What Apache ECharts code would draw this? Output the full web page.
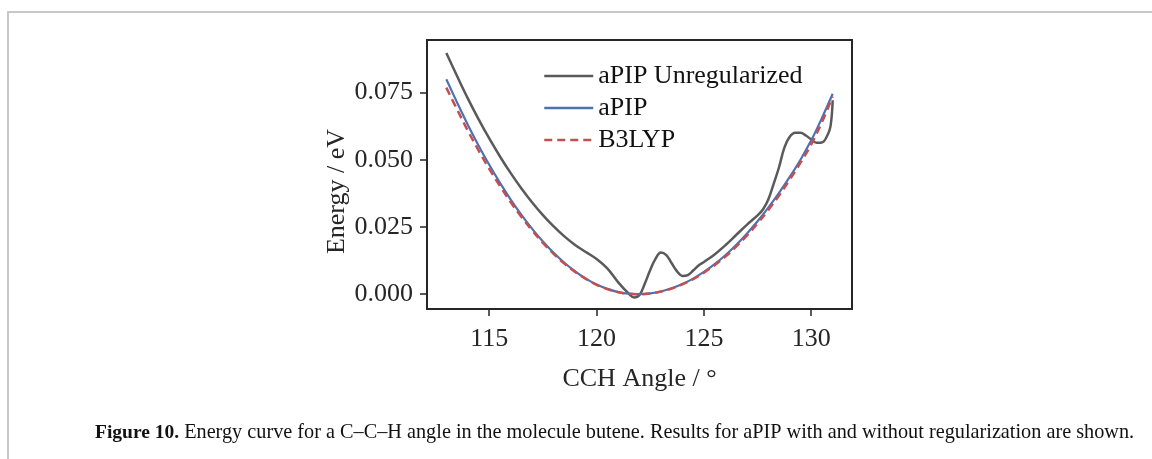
<!DOCTYPE html>
<html>
<head>
<meta charset="utf-8">
<script src="https://cdn.jsdelivr.net/npm/echarts@6/dist/echarts.min.js"></script>
<style>
html,body{margin:0;padding:0;background:#fff;}
#chart{width:1152px;height:459px;}
</style>
</head>
<body>
<div id="chart"></div>
<script>
// ---- data ----
const angle = [113,113.5,114,114.5,115,115.5,116,116.5,117,117.5,118,118.5,119,119.5,120,120.5,121,121.5,122,122.5,123,123.5,124,124.5,125,125.5,126,126.5,127,127.5,128,128.5,129,129.5,130,130.5,131];
const aPIP = [0.0799,0.0713,0.0630,0.0553,0.0481,0.0414,0.0352,0.0295,0.0243,0.0196,0.0154,0.0117,0.0085,0.0058,0.0036,0.0020,0.0008,0.0002,0.0000,0.0003,0.0010,0.0022,0.0038,0.0058,0.0083,0.0112,0.0145,0.0183,0.0225,0.0271,0.0322,0.0377,0.0436,0.0500,0.0572,0.0655,0.0745];
const b3lyp = [0.0768,0.0687,0.0608,0.0535,0.0466,0.0402,0.0342,0.0287,0.0237,0.0191,0.0150,0.0114,0.0083,0.0057,0.0035,0.0019,0.0008,0.0002,0.0000,0.0003,0.0010,0.0021,0.0037,0.0056,0.0080,0.0108,0.0140,0.0177,0.0218,0.0263,0.0313,0.0367,0.0426,0.0489,0.0557,0.0640,0.0735];
const angleUnreg = [113,113.5,114,114.5,115,115.5,116,116.5,117,117.5,118,118.5,119,119.5,120,120.5,121,121.5,121.75,122,122.25,122.5,122.75,123,123.25,123.5,123.75,124,124.25,124.5,124.75,125,125.5,126,126.5,127,127.5,127.75,128,128.25,128.5,128.75,129,129.25,129.5,129.75,130,130.25,130.5,130.75,130.9,131];
const aPIPUnreg = [0.0897,0.0811,0.0728,0.0651,0.0579,0.0512,0.0450,0.0393,0.0341,0.0294,0.0252,0.0215,0.0183,0.0157,0.0131,0.0096,0.0045,0.0002,-0.0012,-0.0003,0.0040,0.0090,0.0132,0.0155,0.0145,0.0115,0.0085,0.0068,0.0071,0.0088,0.0107,0.0120,0.0148,0.0182,0.0220,0.0258,0.0293,0.0315,0.0352,0.0410,0.0472,0.0545,0.0585,0.0600,0.0600,0.0590,0.0575,0.0563,0.0564,0.0590,0.0625,0.0721];
const xTicks = [115,120,125,130];
const yTicks = [0,0.025,0.05,0.075];
const seriesNames = ['aPIP Unregularized','aPIP','B3LYP'];
const xLabel = 'CCH Angle / \u00B0';
const yLabel = 'Energy / eV';
const captionBold = 'Figure 10.';
const captionText = 'Energy curve for a C\u2013C\u2013H angle in the molecule butene. Results for aPIP with and without regularization are shown.';

const pairs = (xs, ys) => xs.map((x, i) => [x, ys[i]]);
const FONT = 'Liberation Serif';
const AX = '#262626';
const TXT = '#262626';

const chart = echarts.init(document.getElementById('chart'), null, {renderer: 'canvas'});
chart.setOption({
  animation: false,
  backgroundColor: '#ffffff',
  title: {
    left: 95, top: 423, padding: 0,
    text: '{b|' + captionBold + '} {r|' + captionText + '}',
    textStyle: {
      fontWeight: 'normal',
      rich: {
        b: {fontFamily: FONT, fontSize: 19.5, fontWeight: 'bold', color: '#111'},
        r: {fontFamily: FONT, fontSize: 20.25, fontWeight: 'normal', color: '#111'}
      }
    }
  },
  graphic: [{
    type: 'rect', silent: true, z: -10,
    shape: {x: 8, y: 12, width: 1300, height: 600},
    style: {fill: 'none', stroke: '#c8c8c8', lineWidth: 2}
  }],
  grid: {
    left: 427, right: 300, top: 40, bottom: 150,
    show: true, borderColor: AX, borderWidth: 2, backgroundColor: 'transparent'
  },
  legend: {
    orient: 'vertical', left: 538, top: 56,
    itemWidth: 49, itemHeight: 14, itemGap: 2,
    itemStyle: {opacity: 0},
    lineStyle: {width: 2.5},
    textStyle: {fontFamily: FONT, fontSize: 26, lineHeight: 30, color: '#111'},
    data: seriesNames
  },
  xAxis: {
    type: 'value', min: 112.1, max: 131.9,
    name: xLabel, nameLocation: 'middle', nameGap: 57,
    nameTextStyle: {fontFamily: FONT, fontSize: 26, color: TXT},
    axisLine: {show: false, onZero: false},
    splitLine: {show: false},
    axisTick: {show: true, inside: false, length: 7, lineStyle: {color: AX, width: 1.5}, customValues: xTicks},
    axisLabel: {fontFamily: FONT, fontSize: 26, color: TXT, margin: 17, customValues: xTicks}
  },
  yAxis: {
    type: 'value', min: -0.0055, max: 0.0945,
    name: yLabel, nameLocation: 'middle', nameGap: 76, nameRotate: 90,
    nameTextStyle: {fontFamily: FONT, fontSize: 26, color: TXT, padding: [0, 34, 0, 0]},
    axisLine: {show: false, onZero: false},
    splitLine: {show: false},
    axisTick: {show: true, inside: false, length: 7, lineStyle: {color: AX, width: 1.5}, customValues: yTicks},
    axisLabel: {fontFamily: FONT, fontSize: 26, color: TXT, margin: 14, customValues: yTicks,
      formatter: v => v.toFixed(3)}
  },
  series: [
    {name: seriesNames[0], type: 'line', data: pairs(angleUnreg, aPIPUnreg), smooth: 0.4, symbol: 'none',
     lineStyle: {color: '#5a5a5a', width: 2.5}, itemStyle: {color: '#5a5a5a'}, z: 2},
    {name: seriesNames[1], type: 'line', data: pairs(angle, aPIP), smooth: 0.4, symbol: 'none',
     lineStyle: {color: '#4c72b0', width: 2.2}, itemStyle: {color: '#4c72b0'}, z: 3},
    {name: seriesNames[2], type: 'line', data: pairs(angle, b3lyp), smooth: 0.4, symbol: 'none',
     lineStyle: {color: '#c44e52', width: 2.5, type: [8, 5]}, itemStyle: {color: '#c44e52'}, z: 4}
  ]
});
</script>
</body>
</html>
